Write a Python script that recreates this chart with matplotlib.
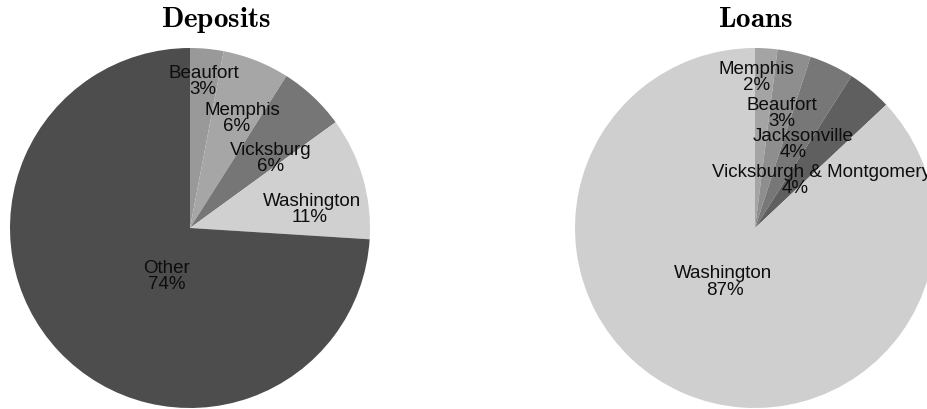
import matplotlib
matplotlib.use("Agg")
import matplotlib.pyplot as plt
import numpy as np

plt.rcParams['font.family'] = ['Liberation Sans', 'DejaVu Sans']
plt.rcParams['mathtext.fontset'] = 'cm'

#%% data
dep_names = ["Beaufort", "Memphis", "Vicksburg", "Washington", "Other"]
dep_pct = [3, 6, 6, 11, 74]
dep_colors = ["#999999", "#a6a6a6", "#767676", "#d0d0d0", "#4d4d4d"]

loan_names = ["Memphis", "Beaufort", "Jacksonville",
              "Vicksburgh & Montgomery", "Washington"]
loan_pct = [2, 3, 4, 4, 87]
loan_colors = ["#a4a4a4", "#8e8e8e", "#777777", "#5f5f5f", "#cfcfcf"]

# label spots (name baseline, in pie radius units) and shift of the % line
dep_label_xy = [(0.075, 0.84), (0.29, 0.633), (0.45, 0.41), (0.68, 0.13),
                (-0.13, -0.243)]
dep_pct_dx = [-0.005, -0.033, 0.0, -0.017, 0.0]
loan_label_xy = [(0.01, 0.86), (0.15, 0.66), (0.27, 0.49), (0.37, 0.29),
                 (-0.178, -0.274)]
loan_pct_dx = [0.0, 0.0, -0.06, -0.147, 0.01]

#%% figure
W, H = 927, 410
R = 180.0
fig = plt.figure(figsize=(W / 100, H / 100), dpi=100)


def draw_pie(cx, cy, values, colors, names, label_xy, pct_dx, title, title_x):
    # axes box exactly around the pie circle (pixel coords from top-left)
    ax = fig.add_axes([(cx - R) / W, (H - cy - R) / H, 2 * R / W, 2 * R / H])
    ax.pie(values, colors=colors, startangle=90, counterclock=False,
           radius=1.0, wedgeprops=dict(linewidth=0))
    ax.set_xlim(-1, 1)
    ax.set_ylim(-1, 1)
    ax.set_aspect('equal')
    ax.axis('off')

    pitch = 16.2 / R
    for name, v, (x, y), dx in zip(names, values, label_xy, pct_dx):
        ax.text(x, y, name, ha='center', va='baseline', fontsize=13.5,
                color='#0d0d0d', clip_on=False)
        ax.text(x + dx, y - pitch, "%d%%" % v, ha='center', va='baseline',
                fontsize=13.5, color='#0d0d0d', clip_on=False)

    fig.text(title_x / W, 1 - 27.0 / H, r'$\mathbf{%s}$' % title,
             ha='center', va='baseline', fontsize=21)
    return ax


draw_pie(190, 229, dep_pct, dep_colors, dep_names, dep_label_xy,
         dep_pct_dx, "Deposits", 216)
draw_pie(755, 229, loan_pct, loan_colors, loan_names, loan_label_xy,
         loan_pct_dx, "Loans", 755)

fig.savefig("out.png", dpi=100)
